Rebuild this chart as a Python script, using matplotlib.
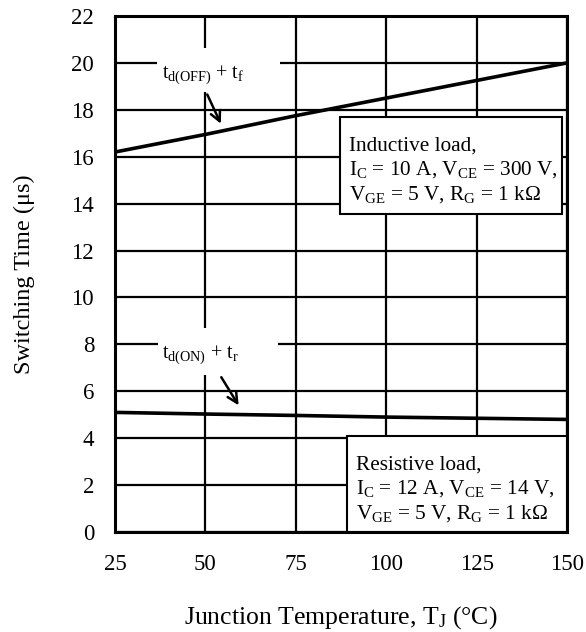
import matplotlib
matplotlib.use('Agg')
import matplotlib.pyplot as plt
from matplotlib.patches import Rectangle

plt.rcParams['font.family'] = ['Liberation Serif', 'DejaVu Serif']
plt.rcParams['mathtext.fontset'] = 'custom'
plt.rcParams['mathtext.rm'] = 'Liberation Serif'
plt.rcParams['mathtext.it'] = 'Liberation Serif:italic'

# data
temp = [25, 50, 75, 100, 125, 150]
t_off = [16.2, 16.95, 17.75, 18.5, 19.25, 20.0]   # td(OFF) + tf
t_on = [5.1, 5.03, 4.97, 4.9, 4.85, 4.8]          # td(ON) + tr
xticks = [25, 50, 75, 100, 125, 150]
yticks = list(range(0, 23, 2))

fig = plt.figure(figsize=(5.86, 6.32), dpi=100)
ax = fig.add_axes([0.1962, 0.1582, 0.7713, 0.8165])

ax.plot(temp, t_off, color='black', lw=2.6, zorder=3)
ax.plot(temp, t_on, color='black', lw=2.6, zorder=3)

ax.set_xlim(25, 150)
ax.set_ylim(0, 22)
ax.set_xticks(xticks)
ax.set_yticks(yticks)
ax.grid(True, color='black', lw=1.6)
ax.set_axisbelow(True)
for s in ax.spines.values():
    s.set_linewidth(2.2)
    s.set_zorder(6)
ax.tick_params(length=0, labelsize=16.5)
ax.tick_params(axis='y', pad=15)
ax.tick_params(axis='x', pad=16)

ax.set_xlabel(r'Junction Temperature, T$_\mathrm{J}$ (°C)', fontsize=18.5, labelpad=21)
ax.set_ylabel('Switching Time (μs)', fontsize=17.5, labelpad=26)

# white patches behind the curve labels
for (x0, y0, w, h) in [(0.093, 0.853, 0.272, 0.085), (0.095, 0.304, 0.266, 0.091)]:
    ax.add_patch(Rectangle((x0, y0), w, h, transform=ax.transAxes,
                           fc='white', ec='none', zorder=2))

ax.text(0.103, 0.887, r'$\mathrm{t_{d(OFF)}}$ + $\mathrm{t_f}$', transform=ax.transAxes,
        fontsize=14.5, va='center', ha='left', zorder=4)
ax.text(0.103, 0.343, r'$\mathrm{t_{d(ON)}}$ + $\mathrm{t_r}$', transform=ax.transAxes,
        fontsize=14.5, va='center', ha='left', zorder=4)

ax.annotate('', xy=(54.6, 17.3), xytext=(50.2, 18.76),
            arrowprops=dict(arrowstyle='->', color='black', lw=1.8,
                            mutation_scale=18), zorder=4)
ax.annotate('', xy=(59.6, 5.3), xytext=(54.0, 6.7),
            arrowprops=dict(arrowstyle='->', color='black', lw=1.8,
                            mutation_scale=18), zorder=4)

# condition boxes
ax.add_patch(Rectangle((0.498, 0.616), 0.491, 0.188, transform=ax.transAxes,
                       fc='white', ec='black', lw=1.5, zorder=5))
ax.text(0.518, 0.767,
        'Inductive load,\n'
        r'$\mathrm{I_C}$ = 10 A, $\mathrm{V_{CE}}$ = 300 V,' '\n'
        r'$\mathrm{V_{GE}}$ = 5 V, $\mathrm{R_G}$ = 1 kΩ',
        transform=ax.transAxes, fontsize=15.3, va='top', ha='left',
        linespacing=1.25, zorder=6)

ax.add_patch(Rectangle((0.513, 0.0), 0.487, 0.186, transform=ax.transAxes,
                       fc='white', ec='black', lw=1.5, zorder=5))
ax.text(0.533, 0.148,
        'Resistive load,\n'
        r'$\mathrm{I_C}$ = 12 A, $\mathrm{V_{CE}}$ = 14 V,' '\n'
        r'$\mathrm{V_{GE}}$ = 5 V, $\mathrm{R_G}$ = 1 kΩ',
        transform=ax.transAxes, fontsize=15.3, va='top', ha='left',
        linespacing=1.25, zorder=6)

fig.savefig('out.png', dpi=100)
